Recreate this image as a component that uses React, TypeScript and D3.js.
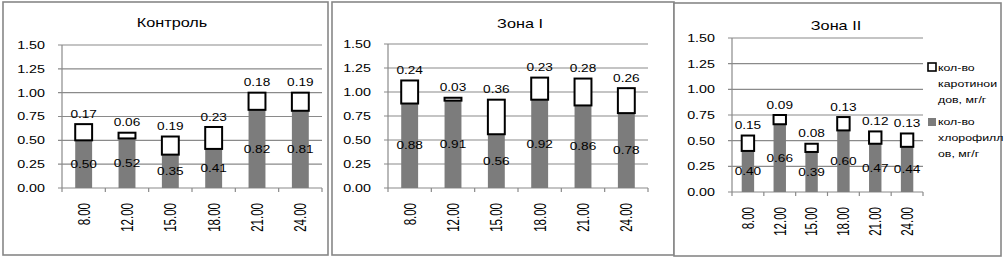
import React from "react";
import * as d3 from "d3";

// ---- data ----
const categories = ["8.00", "12.00", "15.00", "18.00", "21.00", "24.00"];
const yTickValues = [0, 0.25, 0.5, 0.75, 1.0, 1.25, 1.5];

const titles = ["Контроль", "Зона I", "Зона II"];

const chlControl = [0.5, 0.52, 0.35, 0.41, 0.82, 0.81];
const carControl = [0.17, 0.06, 0.19, 0.23, 0.18, 0.19];

const chlZone1 = [0.88, 0.91, 0.56, 0.92, 0.86, 0.78];
const carZone1 = [0.24, 0.03, 0.36, 0.23, 0.28, 0.26];

const chlZone2 = [0.4, 0.66, 0.39, 0.6, 0.47, 0.44];
const carZone2 = [0.15, 0.09, 0.08, 0.13, 0.12, 0.13];

const legendCarotenoid = ["кол-во", "каротинои", "дов, мг/г"];
const legendChlorophyll = ["кол-во", "хлорофилл", "ов, мг/г"];

// ---- style / layout ----
const W = 1004;
const H = 258;
const SX = 1.3; // horizontal stretch of text in the reference
const FONT = "'Liberation Sans', Arial, sans-serif";
const GRID = "#8a8a8a";
const BORDER = "#878787";
const GRAY_BAR = "#7c7c7c";

type Layout = {
  bx0: number; bx1: number; by0: number; by1: number;
  ax0: number; ax1: number; y0: number; y1: number;
  tx: number; ty: number;
};

const layouts: Layout[] = [
  { bx0: 3, bx1: 328, by0: 2, by1: 255, ax0: 62, ax1: 322, y0: 188, y1: 45, tx: 172, ty: 23 },
  { bx0: 332, bx1: 674, by0: 2, by1: 255, ax0: 388, ax1: 648, y0: 188, y1: 44, tx: 520, ty: 24 },
  { bx0: 674, bx1: 1001, by0: 3, by1: 256, ax0: 732, ax1: 923, y0: 192, y1: 38, tx: 836, ty: 26 },
];

const seriesChl = [chlControl, chlZone1, chlZone2];
const seriesCar = [carControl, carZone1, carZone2];

function T(props: {
  x: number; y: number; size: number; anchor?: string; rotate?: boolean; sx?: number; children: React.ReactNode;
}) {
  const { x, y, size, anchor = "middle", rotate = false, sx = SX, children } = props;
  const tr = `translate(${x},${y}) scale(${sx},1)` + (rotate ? " rotate(-90)" : "");
  return (
    <text transform={tr} textAnchor={anchor} dy="0.35em" fontSize={size} fontFamily={FONT} fill="#000">
      {children}
    </text>
  );
}

function Panel({ idx }: { idx: number }) {
  const L = layouts[idx];
  const chl = seriesChl[idx];
  const car = seriesCar[idx];
  const x = d3.scaleBand<string>().domain(categories).range([L.ax0, L.ax1]).padding(0);
  const y = d3.scaleLinear().domain([0, 1.5]).range([L.y0, L.y1]);
  const bw = x.bandwidth() * 0.39;
  const fmt = d3.format(".2f");
  const boundaries = categories.map((c) => x(c)!).concat([L.ax1]);

  return (
    <g>
      <rect x={L.bx0} y={L.by0} width={L.bx1 - L.bx0} height={L.by1 - L.by0} fill="#fff" stroke={BORDER} strokeWidth={1.6} />
      <T x={L.tx} y={L.ty} size={12.5}>{titles[idx]}</T>
      {/* gridlines + y ticks */}
      {yTickValues.map((v) => (
        <g key={v}>
          <line x1={L.ax0 - 4} x2={L.ax1} y1={y(v)} y2={y(v)} stroke={GRID} strokeWidth={1.2} />
          <T x={L.ax0 - 17} y={y(v)} size={11} anchor="end">{fmt(v)}</T>
        </g>
      ))}
      {/* y axis line */}
      <line x1={L.ax0} x2={L.ax0} y1={L.y1} y2={L.y0} stroke={GRID} strokeWidth={1.2} />
      {/* x ticks */}
      {boundaries.map((bx, i) => (
        <line key={i} x1={bx} x2={bx} y1={L.y0} y2={L.y0 + 4} stroke={GRID} strokeWidth={1.2} />
      ))}
      {/* bars */}
      {categories.map((c, i) => {
        const cx = x(c)! + x.bandwidth() / 2;
        const top1 = y(chl[i]);
        const top2 = y(chl[i] + car[i]);
        return (
          <g key={c}>
            <rect x={cx - bw / 2} y={top1} width={bw} height={L.y0 - top1} fill={GRAY_BAR} />
            <rect x={cx - bw / 2} y={top2} width={bw} height={top1 - top2} fill="#fff" stroke="#000" strokeWidth={2} />
          </g>
        );
      })}
      {/* labels */}
      {categories.map((c, i) => {
        const cx = x(c)! + x.bandwidth() / 2;
        return (
          <g key={c}>
            <T x={cx} y={y(chl[i] / 2)} size={10.5}>{fmt(chl[i])}</T>
            <T x={cx} y={y(chl[i] + car[i]) - 10} size={10.5}>{fmt(car[i])}</T>
            <T x={cx} y={L.y0 + 15} size={11.5} sx={1.45} anchor="end" rotate>{c}</T>
          </g>
        );
      })}
      {idx === 2 && (
        <g>
          <rect x={928} y={63} width={8} height={8} fill="#fff" stroke="#000" strokeWidth={1.6} />
          {legendCarotenoid.map((s, k) => (
            <T key={s} x={938} y={68 + k * 16} size={9.5} anchor="start">{s}</T>
          ))}
          <rect x={928} y={118} width={8} height={8} fill={GRAY_BAR} />
          {legendChlorophyll.map((s, k) => (
            <T key={s} x={938} y={122 + k * 16} size={9.5} anchor="start">{s}</T>
          ))}
        </g>
      )}
    </g>
  );
}

export default function App() {
  return (
    <svg width={W} height={H} style={{ position: "absolute", left: 0, top: 0, background: "#fff" }}>
      <rect x={0} y={0} width={W} height={H} fill="#fff" />
      {layouts.map((_, i) => (
        <Panel key={i} idx={i} />
      ))}
    </svg>
  );
}
